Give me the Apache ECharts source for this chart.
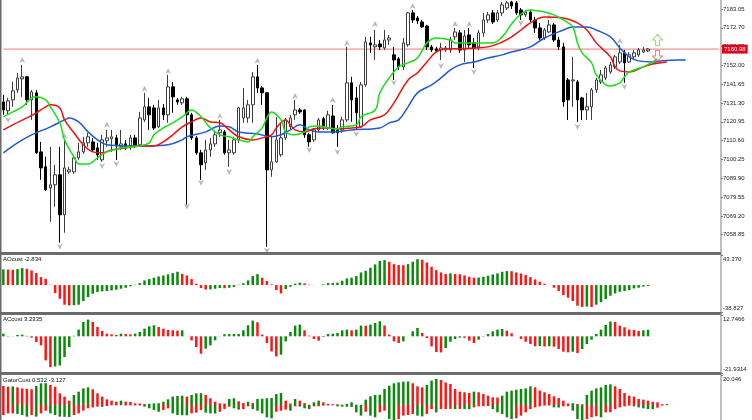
<!doctype html>
<html>
<head>
<meta charset="utf-8">
<title>Alligator with AO, AC and Gator</title>
<script src="https://cdn.jsdelivr.net/npm/echarts@6/dist/echarts.min.js"></script>
<style>
  html, body { margin: 0; padding: 0; background: #fff; }
  #chart { width: 752px; height: 420px; }
</style>
</head>
<body>
<div id="chart"></div>
<script type="text/javascript">

// ---- data ----
var slotCount = 153;               // bar slots on the shared time axis
var lastPrice = 7160.98;

// [open, close, low, high]
var candles = [
  [7131.9,7127.5,7124.8,7135.8],[7127.0,7132.5,7124.8,7134.1],[7133.0,7138.0,7129.2,7142.9],[7138.5,7145.1,7136.9,7147.9],
  [7144.6,7145.7,7134.7,7152.3],[7145.7,7133.0,7130.3,7146.2],[7133.0,7137.4,7122.0,7138.5],[7136.9,7103.9,7103.3,7138.5],
  [7104.4,7095.6,7089.0,7109.9],[7096.2,7083.5,7083.0,7101.7],[7084.6,7086.3,7065.9,7107.2],[7086.3,7091.8,7074.2,7097.3],
  [7091.8,7069.8,7054.4,7107.2],[7069.8,7095.6,7059.9,7111.0],[7093.4,7094.5,7092.3,7096.2],[7093.4,7101.1,7092.3,7102.8],
  [7101.1,7104.4,7100.0,7109.4],[7104.4,7109.4,7103.3,7112.7],[7109.4,7112.7,7107.2,7114.9],[7109.9,7105.5,7104.4,7112.1],
  [7106.6,7102.8,7100.0,7109.4],[7100.0,7111.0,7098.9,7113.8],[7110.5,7112.1,7107.2,7116.5],[7111.6,7112.7,7104.4,7116.5],
  [7112.1,7107.7,7100.0,7113.8],[7107.2,7108.8,7105.5,7116.5],[7108.8,7107.2,7105.5,7111.0],[7107.7,7112.1,7105.5,7113.8],
  [7112.1,7107.7,7106.6,7113.8],[7108.3,7123.1,7107.2,7126.4],[7122.0,7129.2,7120.9,7136.9],[7129.2,7124.8,7116.5,7134.1],
  [7128.6,7117.6,7116.5,7130.3],[7118.2,7128.6,7117.6,7133.0],[7128.6,7124.8,7122.0,7130.8],[7124.8,7140.2,7120.4,7146.8],
  [7140.2,7134.7,7125.9,7142.9],[7133.0,7131.9,7130.3,7134.1],[7131.4,7133.6,7130.3,7134.7],[7133.6,7124.8,7075.3,7134.7],
  [7124.8,7112.1,7111.0,7125.9],[7112.1,7103.9,7102.8,7113.2],[7103.9,7097.3,7089.0,7105.5],[7098.4,7105.5,7094.5,7111.0],
  [7105.5,7108.8,7101.7,7112.1],[7108.8,7113.8,7107.2,7115.4],[7114.9,7116.5,7112.7,7122.0],[7115.4,7103.9,7102.8,7116.5],
  [7103.9,7105.5,7096.2,7111.0],[7103.9,7111.0,7102.8,7112.7],[7111.0,7128.6,7109.4,7129.2],[7123.1,7128.6,7120.4,7139.6],
  [7123.1,7130.3,7120.4,7133.0],[7130.3,7145.7,7120.4,7148.4],[7145.7,7139.6,7136.9,7152.3],[7139.6,7136.9,7130.3,7140.7],
  [7136.9,7094.5,7052.2,7137.4],[7094.5,7098.9,7090.7,7112.7],[7098.9,7111.0,7098.4,7123.7],[7102.8,7112.1,7101.7,7120.4],
  [7112.1,7122.0,7111.0,7123.1],[7118.2,7123.1,7116.5,7124.8],[7124.8,7127.5,7122.0,7133.0],[7127.5,7126.4,7125.3,7128.6],
  [7127.5,7113.8,7112.1,7128.0],[7113.8,7109.9,7107.2,7114.9],[7111.0,7116.5,7109.9,7117.6],[7116.5,7122.0,7115.4,7123.1],
  [7122.6,7118.2,7116.5,7123.7],[7117.6,7124.8,7116.5,7127.0],[7124.2,7114.9,7114.4,7130.3],[7116.5,7114.9,7107.2,7119.3],
  [7116.5,7122.0,7114.9,7123.7],[7122.0,7142.4,7120.9,7162.2],[7142.4,7133.0,7121.0,7145.7],[7134.1,7125.9,7116.5,7140.2],
  [7118.2,7141.3,7117.6,7142.9],[7141.3,7164.9,7140.2,7167.7],[7164.4,7163.3,7158.9,7167.7],[7162.2,7163.3,7155.0,7171.5],
  [7163.8,7162.2,7160.5,7166.0],[7161.6,7166.0,7160.5,7171.5],[7166.0,7167.1,7163.3,7168.8],[7157.8,7155.0,7144.0,7162.2],
  [7155.6,7151.2,7149.5,7156.7],[7151.2,7164.4,7149.5,7167.1],[7163.3,7180.9,7162.2,7181.4],[7180.9,7177.0,7175.4,7182.5],
  [7178.1,7176.5,7174.8,7179.2],[7175.9,7173.2,7172.6,7177.0],[7173.7,7162.2,7160.5,7174.3],[7162.2,7160.5,7159.4,7163.3],
  [7161.1,7160.0,7158.9,7162.2],[7160.5,7161.6,7155.0,7164.4],[7160.5,7161.6,7159.4,7162.7],[7160.5,7166.0,7158.9,7167.7],
  [7167.7,7170.4,7166.0,7172.6],[7169.9,7160.5,7158.9,7171.5],[7160.5,7168.2,7153.9,7171.5],[7168.8,7163.3,7161.6,7172.6],
  [7164.4,7161.6,7150.6,7167.1],[7162.2,7169.9,7160.5,7171.5],[7169.9,7177.0,7167.7,7180.9],[7177.0,7179.8,7175.4,7181.4],
  [7180.9,7175.9,7174.8,7182.5],[7177.0,7180.9,7175.9,7182.5],[7180.9,7185.3,7179.2,7186.9],[7183.6,7186.4,7182.5,7187.5],
  [7186.9,7184.7,7183.1,7187.5],[7186.4,7180.9,7179.8,7187.5],[7182.5,7179.8,7177.0,7183.6],[7179.8,7181.4,7178.7,7182.5],
  [7181.4,7177.0,7175.9,7182.5],[7177.0,7172.6,7169.9,7178.7],[7172.6,7167.1,7166.0,7175.4],[7167.1,7171.5,7166.0,7172.6],
  [7170.4,7174.3,7169.9,7177.0],[7174.3,7166.0,7164.9,7175.4],[7166.0,7162.2,7160.5,7167.7],[7162.2,7131.9,7129.2,7164.4],
  [7144.0,7133.0,7122.0,7145.1],[7143.5,7144.0,7129.2,7156.7],[7142.9,7133.0,7120.9,7144.0],[7134.1,7127.5,7122.0,7134.7],
  [7127.5,7129.2,7122.0,7136.9],[7129.2,7138.5,7122.0,7139.6],[7138.5,7144.0,7136.9,7145.1],[7142.9,7146.8,7141.8,7149.5],
  [7145.1,7150.6,7144.0,7151.7],[7148.4,7152.3,7147.3,7153.9],[7151.2,7156.7,7150.1,7157.8],[7153.9,7158.9,7152.8,7163.3],
  [7158.9,7153.4,7142.4,7160.5],[7153.9,7157.8,7153.4,7159.4],[7156.7,7158.9,7155.0,7160.5],[7157.8,7160.5,7156.7,7161.6],
  [7159.4,7160.5,7158.9,7162.2],[7160.0,7161.0,7159.4,7161.6]
];

// alligator lines, [bar index, price] as read at points along each curve
var jaw = [[0,7103.9],[3,7109.4],[6,7113.8],[10,7118.2],[13,7122.0],[14,7123.1],[16,7120.9],[18,7115.4],[20,7111.0],[22,7108.3],
  [26,7107.7],[31,7107.7],[35,7108.3],[38,7111.0],[39,7112.7],[43,7115.4],[46,7118.7],[48,7118.2],[50,7115.4],[54,7114.3],
  [57,7112.7],[59,7113.8],[61,7116.5],[63,7119.3],[65,7116.5],[67,7115.4],[70,7115.4],[74,7116.5],[80,7117.6],[82,7120.4],
  [84,7122.0],[86,7129.2],[88,7136.9],[91,7141.3],[93,7145.1],[95,7149.5],[97,7152.3],[100,7153.9],[103,7156.1],[106,7157.8],
  [108,7159.4],[112,7162.2],[115,7167.1],[119,7171.5],[121,7173.2],[124,7173.2],[126,7171.5],[129,7167.7],[131,7161.6],[133,7156.7],
  [135,7154.5],[138,7153.9],[140,7154.5],[143,7155.0],[145,7155.0]];
var teeth = [[0,7116.5],[2,7119.3],[5,7123.1],[7,7125.9],[9,7129.2],[10,7130.3],[12,7128.6],[13,7122.0],[15,7114.9],[17,7108.3],
  [19,7104.4],[21,7103.9],[23,7105.5],[26,7106.6],[29,7107.7],[32,7107.7],[34,7109.9],[36,7113.8],[38,7118.2],[40,7120.9],
  [42,7123.1],[44,7120.9],[46,7120.4],[48,7116.5],[50,7112.7],[53,7111.0],[55,7112.1],[57,7113.8],[58,7117.6],[60,7122.0],
  [61,7119.3],[62,7116.5],[64,7115.4],[66,7117.1],[68,7117.6],[71,7117.1],[74,7117.6],[76,7118.2],[78,7122.0],[81,7124.8],
  [83,7131.4],[86,7144.0],[88,7147.9],[90,7153.9],[92,7159.4],[94,7161.1],[97,7161.1],[100,7161.6],[103,7162.2],[106,7164.9],
  [108,7167.7],[110,7171.5],[112,7175.4],[115,7178.7],[119,7178.1],[122,7175.4],[124,7171.5],[126,7164.4],[129,7156.7],[130,7151.2],
  [131,7149.0],[133,7148.4],[136,7151.2],[138,7152.8],[141,7153.9]];
var lips = [[0,7123.7],[2,7126.4],[4,7129.2],[6,7134.1],[7,7134.7],[9,7133.0],[10,7129.2],[12,7120.4],[13,7111.0],[15,7101.7],
  [16,7097.8],[18,7097.8],[20,7101.1],[22,7104.4],[25,7106.6],[29,7107.7],[31,7109.4],[32,7113.8],[34,7117.6],[36,7120.4],
  [38,7123.7],[40,7127.5],[42,7123.7],[44,7117.6],[46,7113.8],[48,7112.7],[50,7111.0],[52,7109.9],[53,7112.7],[55,7117.6],
  [56,7123.1],[57,7126.4],[59,7122.0],[60,7115.4],[62,7113.8],[64,7115.4],[65,7118.2],[67,7118.7],[69,7117.6],[71,7117.1],
  [72,7118.2],[75,7119.3],[76,7123.7],[79,7127.5],[80,7136.9],[82,7145.1],[84,7151.2],[86,7153.4],[88,7156.1],[90,7164.4],
  [92,7167.1],[95,7166.0],[96,7164.4],[99,7164.4],[102,7164.4],[104,7164.4],[106,7167.7],[108,7174.8],[110,7180.3],[112,7182.5],
  [115,7181.4],[117,7179.8],[119,7177.0],[121,7173.2],[122,7164.4],[123,7158.9],[125,7153.4],[126,7146.8],[128,7141.3],[129,7140.7],
  [131,7142.4],[132,7145.7],[133,7148.4],[136,7151.2],[138,7153.9],[139,7155.6]];

// fractal marks, [bar index, price]
var fractalUp = [[4,7155.0],[13,7113.2],[22,7119.3],[30,7139.1],[35,7148.9],[46,7124.2],[54,7154.5],[62,7135.2],
  [70,7133.0],[73,7164.4],[79,7174.8],[87,7184.7],[96,7174.8],[99,7174.8],[116,7178.7],[131,7165.5]];
var fractalDown = [[1,7122.0],[12,7052.2],[21,7096.7],[24,7097.8],[39,7074.2],[42,7087.4],[48,7093.4],[56,7050.0],
  [65,7105.5],[71,7104.4],[75,7114.3],[83,7142.4],[93,7151.7],[100,7148.4],[110,7175.4],[122,7118.2],[132,7140.2]];
var signalUp = [[139,7166.0]];
var signalDown = [[139,7157.2]];

var ao = [22.6,22.4,22.0,23.0,24.5,23.5,21.1,17.3,11.5,9.1, 0.5,-11.5,-19.7,-28.3,-29.3,-29.0,-28.3,-23.0,-17.3,-12.5,
  -10.1,-9.1,-8.6,-7.7,-6.7,-5.3,-3.8,-1.9,0.5,2.9, 6.7,8.6,10.6,12.5,13.9,15.4,17.3,19.2,16.3,13.9,
  8.6,1.9,-4.3,-6.5,-6.2,-5.3,-4.3,-4.5,-3.8,-2.9, 0.5,2.5,6.7,13.0,15.8,10.6,5.8,1.0,-7.2,-12.0,
  -5.8,-2.4,2.0,3.4,2.4,0.5,0.2,0.0,1.0,2.9, 3.0,3.4,6.2,9.6,10.6,13.0,18.2,20.6,25.0,29.8,
  35.0,36.0,33.6,30.2,28.8,28.6,30.2,33.6,37.4,36.5, 32.6,26.4,21.6,18.2,15.8,16.8,15.8,15.6,13.9,12.0,
  10.6,10.9,12.0,13.4,15.4,16.8,19.2,20.2,20.0,18.2, 16.8,14.4,11.5,8.2,4.8,1.9,0.0,-3.8,-8.6,-14.4,
  -18.2,-23.0,-29.8,-31.5,-31.0,-31.6,-28.3,-24.5,-20.2,-15.4, -12.0,-9.6,-8.6,-7.2,-4.8,-3.8,-2.2,-1.4];
var ac = [1.6,0.2,0.1,0.8,1.0,0.3,-0.8,-3.4,-5.4,-14.4, -18.4,-18.0,-17.4,-12.4,-6.4,0.3,4.0,8.6,10.0,8.6,
  5.6,3.2,1.6,1.2,0.8,1.6,1.4,1.2,1.6,2.6, 4.6,6.0,6.6,5.6,4.6,3.8,3.6,3.4,3.6,0.0,
  -2.4,-6.4,-10.4,-7.4,-5.4,-2.4,0.1,1.2,1.3,1.4, 1.4,3.6,6.6,9.4,8.4,1.0,-4.0,-9.0,-12.0,-11.0,
  -3.0,2.6,6.4,7.0,3.6,0.4,-1.6,-2.6,-0.4,1.4, 1.6,2.0,3.6,4.0,3.6,4.0,6.4,6.3,7.0,8.0,
  9.0,6.4,1.0,-3.0,-4.0,-3.0,0.0,3.0,5.0,2.0, -1.0,-6.0,-9.4,-9.6,-7.0,-3.2,-1.6,-0.8,-0.9,-2.6,
  -4.0,-2.0,-0.2,1.4,3.0,4.0,4.4,3.4,1.8,0.0, -1.6,-3.2,-4.6,-6.0,-5.8,-6.1,-5.9,-6.2,-7.6,-9.2,
  -9.6,-9.2,-10.0,-7.6,-4.6,-2.0,1.4,4.0,6.8,8.8, 8.6,6.4,5.4,4.0,3.8,3.2,3.6,3.9];
var gatorUp = [12.7,12.2,12.4,11.8,11.1,10.8,10.5,12.7,14.5,14.6, 13.4,12.2,7.8,5.6,2.9,6.7,8.9,11.1,11.8,10.5,
  7.8,5.6,3.8,2.9,2.2,2.9,2.2,2.0,1.1,1.0, 0.7,0.8,1.1,1.2,2.2,3.8,5.6,6.0,6.2,5.6,
  6.7,7.8,7.9,6.7,4.5,2.2,1.1,1.0,4.0,4.5, 2.5,1.3,2.2,1.3,4.0,4.2,4.5,4.7,7.3,8.0,
  2.9,1.0,4.0,2.9,1.3,0.2,1.8,2.9,1.8,0.7, 0.6,0.5,0.2,0.7,1.8,0.2,0.1,3.6,5.8,6.7,
  6.8,10.7,12.9,14.5,15.1,15.6,15.7,14.5,12.5,11.8, 13.4,16.3,17.4,16.7,15.1,14.0,10.7,8.9,8.5,8.0,
  8.9,8.5,7.3,6.2,5.1,5.0,6.2,8.9,9.6,10.2, 10.7,11.1,12.5,11.8,9.6,8.5,7.3,5.8,4.7,2.9,
  1.0,1.2,0.7,0.5,6.7,9.6,11.1,11.8,13.4,13.8, 12.5,10.7,8.0,6.2,5.6,4.0,3.6,2.9,2.2,1.8, 0.5,0.6];
var gatorDown = [-6.7,-5.6,-5.6,-6.0,-6.7,-7.8,-6.7,-7.8,-5.6,-3.8, -5.6,-6.7,-7.8,-7.9,-8.0,-6.7,-5.6,-3.8,-2.2,-1.6,
  -1.1,-1.2,-0.7,-0.2,-0.2,-0.2,-0.3,-0.3,-0.3,-0.3, -1.1,-2.2,-3.3,-4.5,-3.3,-2.2,-5.6,-6.7,-6.8,-6.9,
  -5.6,-5.1,-3.3,-5.1,-5.6,-5.7,-4.5,-2.7,-1.1,-2.2, -3.1,-2.7,-0.9,-2.7,-3.8,-5.6,-8.2,-8.9,-4.5,-3.8,
  -3.1,-3.8,-0.9,-1.1,-2.2,-2.7,-0.9,-0.8,-0.4,-0.3, -0.2,-0.9,-1.1,-1.2,-1.3,-4.9,-7.1,-4.5,-7.1,-8.2,
  -4.9,-3.8,-9.4,-10.5,-9.4,-7.1,-6.7,-6.0,-7.1,-7.6, -6.0,-2.7,-4.9,-2.7,-2.7,-2.6,-2.7,-2.6,-2.7,-2.8,
  -1.6,-0.9,-0.8,-0.7,-2.7,-4.9,-6.0,-8.2,-9.4,-8.9, -7.1,-4.9,-2.7,-1.6,-0.9,-0.4,-0.3,-1.6,-1.7,-0.9,
  -0.8,-3.8,-9.4,-10.5,-9.4,-8.2,-7.5,-8.2,-4.9,-4.8, -2.7,-1.6,-0.9,-0.4,-0.9,-1.6,-2.2,-2.7,-2.8,-1.8, -0.4,-0.1];

var priceTicks = [7183.05,7172.70,7162.35,7152.00,7141.65,7131.30,7120.95,7110.60,7100.25,7089.90,7079.55,7069.20,7058.85];
var aoRange = [-38.827, 43.370], aoLabels = ['-38.827', '43.370'];
var acRange = [-21.9314, 12.7466], acLabels = ['-21.9314', '12.7466'];
var gatorRange = [-10.02, 20.046], gatorLabels = ['', '20.046'];
var panelTitles = ['AOcust -2.834', 'ACcust 3.2335', 'GatorCust 0.532 -3.127'];

// ---- chart ----
var FONT = 'Liberation Sans';
var GREEN = '#0a8a0a', RED = '#ff1414';
var categories = [];
for (var i = 0; i < slotCount; i++) categories.push(String(i));

function colorByChange(vals, firstUp, useAbs) {
    return vals.map(function (v, i) {
        var up;
        if (i === 0) up = firstUp;
        else if (useAbs) up = Math.abs(v) > Math.abs(vals[i - 1]);
        else up = v >= vals[i - 1];
        return {value: v, itemStyle: {color: up ? GREEN : RED}};
    });
}

function edgeAxis(gridIndex, range, labels) {
    return {
        type: 'value', gridIndex: gridIndex, position: 'right',
        min: range[0], max: range[1],
        splitLine: {show: false}, axisLine: {show: false},
        axisTick: {show: true, customValues: range, length: 2, lineStyle: {color: '#777'}},
        axisLabel: {
            customValues: range, margin: 2, fontSize: 6, color: '#222', fontFamily: FONT,
            formatter: function (v) {
                if (Math.abs(v - range[1]) < 1e-6) return '{t|' + labels[1] + '}';
                return labels[0] ? '{b|' + labels[0] + '}' : '';
            },
            rich: {
                t: {fontSize: 6, fontFamily: FONT, color: '#222', padding: [8, 0, 0, 0]},
                b: {fontSize: 6, fontFamily: FONT, color: '#222', padding: [0, 0, 8, 0]}
            }
        }
    };
}

function timeAxis(gridIndex) {
    return {
        type: 'category', gridIndex: gridIndex, data: categories, boundaryGap: true,
        axisLine: {show: false}, axisTick: {show: false}, axisLabel: {show: false}, splitLine: {show: false}
    };
}

var myChart = echarts.init(document.getElementById('chart'));

var arrowUp = 'path://M5,0 L10,10 L5,7 L0,10 Z';
var arrowDown = 'path://M0,0 L5,3 L10,0 L5,10 Z';
var blockUp = 'path://M5,0 L10,5 L7,5 L7,10 L3,10 L3,5 L0,5 Z';
var blockDown = 'path://M3,0 L7,0 L7,5 L10,5 L5,10 L0,5 L3,5 Z';

var option = {
    animation: false,
    backgroundColor: '#fff',
    grid: [
        {left: 1, right: 31, top: 0, height: 252},
        {left: 1, right: 31, top: 255, height: 57},
        {left: 1, right: 31, top: 315, height: 58},
        {left: 1, right: 31, top: 375, height: 45}
    ],
    xAxis: [timeAxis(0), timeAxis(1), timeAxis(2), timeAxis(3)],
    yAxis: [
        {
            type: 'value', gridIndex: 0, position: 'right', min: 7049.3, max: 7188.0,
            splitLine: {show: false}, axisLine: {show: false},
            axisTick: {show: true, customValues: priceTicks, length: 2, lineStyle: {color: '#777'}},
            axisLabel: {
                customValues: priceTicks, margin: 2, fontSize: 6, color: '#222', fontFamily: FONT,
                formatter: function (v) { return v.toFixed(2); }
            }
        },
        edgeAxis(1, aoRange, aoLabels),
        edgeAxis(2, acRange, acLabels),
        edgeAxis(3, gatorRange, gatorLabels)
    ],
    graphic: [
        {type: 'rect', left: 0, top: 252, shape: {width: 721, height: 3}, style: {fill: '#6b6b6b'}, z: 50},
        {type: 'rect', left: 0, top: 312, shape: {width: 721, height: 3}, style: {fill: '#6b6b6b'}, z: 50},
        {type: 'rect', left: 0, top: 372, shape: {width: 721, height: 3}, style: {fill: '#6b6b6b'}, z: 50},
        {type: 'rect', left: 0, top: 0, shape: {width: 1.5, height: 420}, style: {fill: '#6b6b6b'}, z: 50},
        {type: 'rect', left: 720.5, top: 0, shape: {width: 1, height: 420}, style: {fill: '#808080'}, z: 50},
        {type: 'text', left: 3, top: 256, z: 50, style: {text: panelTitles[0], fontSize: 6, fontFamily: FONT, fill: '#111'}},
        {type: 'text', left: 3, top: 316, z: 50, style: {text: panelTitles[1], fontSize: 6, fontFamily: FONT, fill: '#111'}},
        {type: 'text', left: 3, top: 377, z: 50, style: {text: panelTitles[2], fontSize: 6, fontFamily: FONT, fill: '#111'}}
    ],
    series: [
        {
            name: 'Last price', type: 'line', xAxisIndex: 0, yAxisIndex: 0, z: 1,
            data: [[0, lastPrice], [slotCount - 1, lastPrice]], showSymbol: false, silent: true,
            lineStyle: {color: '#f29494', width: 1.3},
            markLine: {
                silent: true, symbol: ['none', 'none'], animation: false,
                lineStyle: {color: 'rgba(255,255,255,0)', width: 1},
                label: {
                    show: true, position: 'end', distance: 1, formatter: lastPrice.toFixed(2),
                    backgroundColor: '#e3001b', color: '#fff', fontSize: 6, fontFamily: FONT, padding: [2, 2, 1, 2]
                },
                data: [{yAxis: lastPrice}]
            }
        },
        {
            name: 'Price', type: 'candlestick', xAxisIndex: 0, yAxisIndex: 0,
            data: candles, barWidth: 3, clip: true, z: 2,
            itemStyle: {color: '#fff', color0: '#000', borderColor: '#3c3c3c', borderColor0: '#000', borderWidth: 1}
        },
        {name: 'Jaw', type: 'line', xAxisIndex: 0, yAxisIndex: 0, data: jaw, smooth: 0.4, showSymbol: false, z: 4,
            lineStyle: {color: '#1f5ad6', width: 1.5}},
        {name: 'Teeth', type: 'line', xAxisIndex: 0, yAxisIndex: 0, data: teeth, smooth: 0.4, showSymbol: false, z: 4,
            lineStyle: {color: '#f01010', width: 1.5}},
        {name: 'Lips', type: 'line', xAxisIndex: 0, yAxisIndex: 0, data: lips, smooth: 0.4, showSymbol: false, z: 4,
            lineStyle: {color: '#16e016', width: 1.5}},
        {name: 'Fractal up', type: 'scatter', xAxisIndex: 0, yAxisIndex: 0, data: fractalUp, z: 3,
            symbol: arrowUp, symbolSize: [6, 6], itemStyle: {color: '#a8a8a8'}},
        {name: 'Fractal down', type: 'scatter', xAxisIndex: 0, yAxisIndex: 0, data: fractalDown, z: 3,
            symbol: arrowDown, symbolSize: [6, 6], itemStyle: {color: '#a8a8a8'}},
        {name: 'Buy', type: 'scatter', xAxisIndex: 0, yAxisIndex: 0, data: signalUp, z: 5,
            symbol: blockUp, symbolSize: [10, 11],
            itemStyle: {color: 'rgba(255,255,255,0)', borderColor: '#6ee04a', borderWidth: 1}},
        {name: 'Sell', type: 'scatter', xAxisIndex: 0, yAxisIndex: 0, data: signalDown, z: 5,
            symbol: blockDown, symbolSize: [10, 11],
            itemStyle: {color: 'rgba(255,255,255,0)', borderColor: '#ff5a5a', borderWidth: 1}},
        {name: 'AO', type: 'bar', xAxisIndex: 1, yAxisIndex: 1, barWidth: 2.5,
            data: colorByChange(ao, true, false)},
        {name: 'AC', type: 'bar', xAxisIndex: 2, yAxisIndex: 2, barWidth: 2.5,
            data: colorByChange(ac, true, false)},
        {name: 'Gator up', type: 'bar', xAxisIndex: 3, yAxisIndex: 3, barWidth: 2.5, barGap: '-100%',
            data: colorByChange(gatorUp, false, false)},
        {name: 'Gator down', type: 'bar', xAxisIndex: 3, yAxisIndex: 3, barWidth: 2.5, barGap: '-100%',
            data: colorByChange(gatorDown, false, true)}
    ]
};

myChart.setOption(option);

</script>
</body>
</html>
